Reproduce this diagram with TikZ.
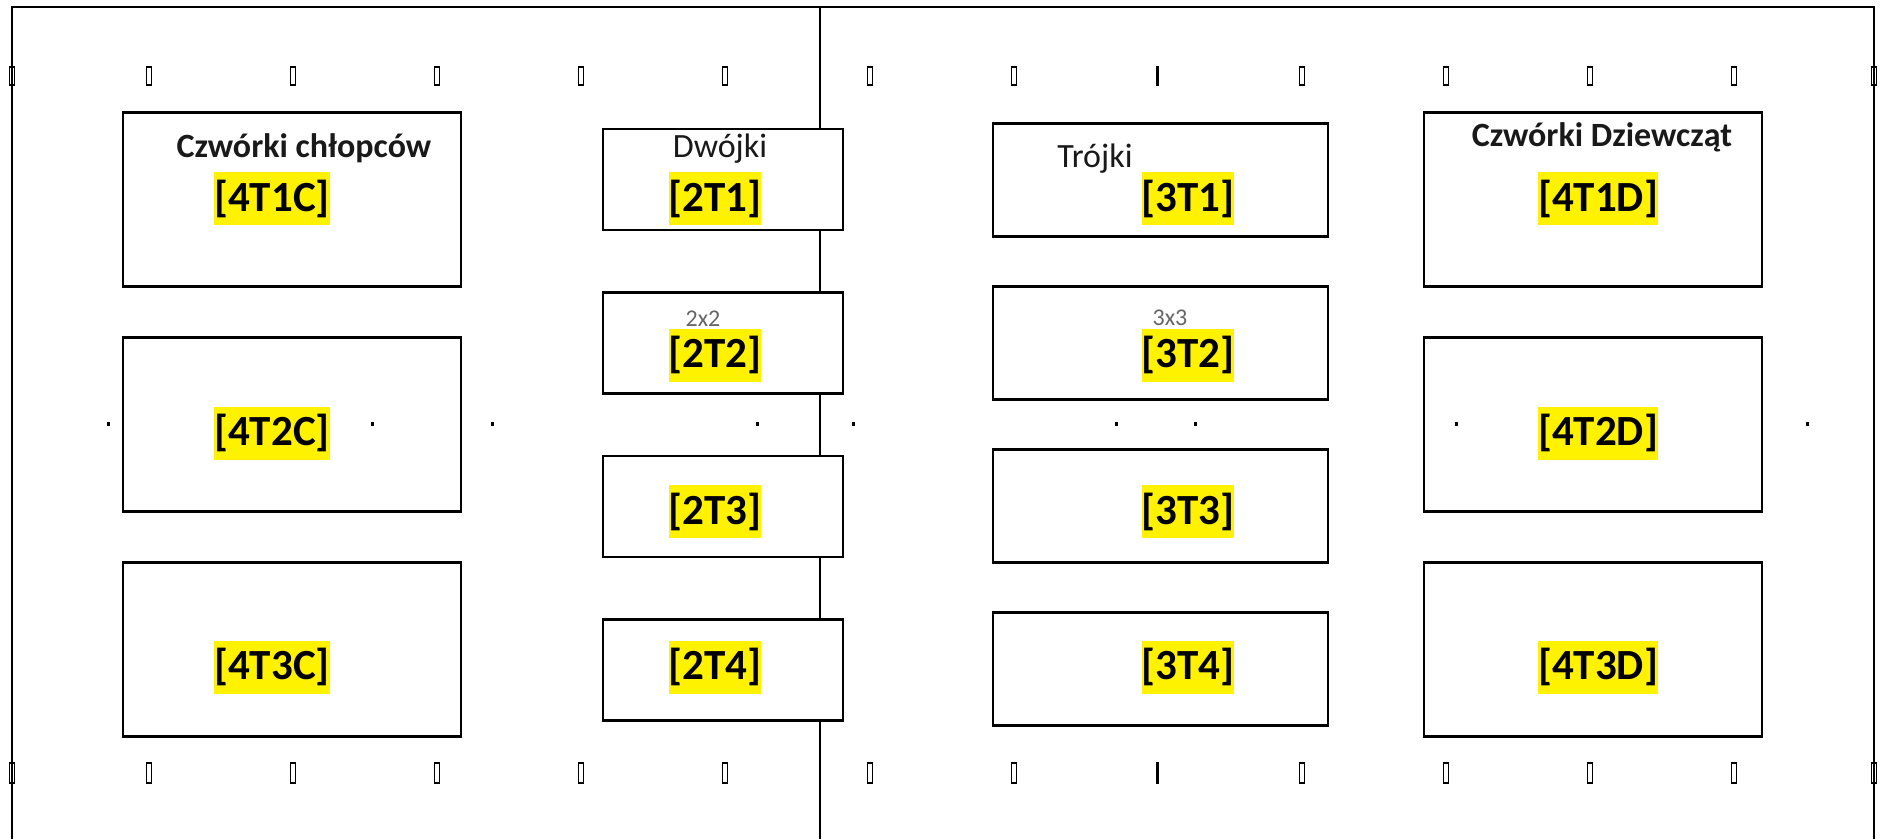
\documentclass[tikz,border=0pt]{standalone}
\usepackage{fontspec}
\setmainfont{Carlito}
\usetikzlibrary{positioning}

\begin{document}
\begin{tikzpicture}[x=1pt,y=-1pt,
  table node/.style={rectangle,draw,line width=2.8pt,fill=white,inner sep=0pt,outer sep=0pt},
  four node/.style={table node,minimum width=338pt,minimum height=174pt},
  two node/.style={table node,minimum width=240pt,minimum height=101pt},
  three node/.style={table node,minimum width=335pt,minimum height=113pt},
  tag node/.style={rectangle,fill=yellow,inner xsep=0pt,inner ysep=0pt,minimum height=53pt,
    font=\fontsize{43}{43}\selectfont\bfseries},
  title node/.style={anchor=base,inner sep=0pt,text=black!90,font=\fontsize{34}{34}\selectfont},
  bold title/.style={title node,font=\fontsize{34}{34}\selectfont\bfseries},
  size node/.style={anchor=base,inner sep=0pt,text=black!60,font=\fontsize{24}{24}\selectfont},
  peg/.style={draw,line width=1.4pt}]

  \useasboundingbox (0,0) rectangle (1883,839);

  % hall walls
  \draw[line width=2pt] (12,839) -- (12,7) -- (1874,7) -- (1874,839);
  \draw[line width=1.6pt] (820,7) -- (820,839);

  % boys
  \node[four node] (b1) at (292,199.5) {};
  \node[four node] (b2) [below=51pt of b1] {};
  \node[four node] (b3) [below=51pt of b2] {};
  % pairs
  \node[two node] (d1) at (723,179.5) {};
  \node[two node] (d2) [below=62.5pt of d1] {};
  \node[two node] (d3) [below=62.5pt of d2] {};
  \node[two node] (d4) [below=62.5pt of d3] {};
  % triples
  \node[three node] (t1) at (1160.5,180) {};
  \node[three node] (t2) [below=50pt of t1] {};
  \node[three node] (t3) [below=50pt of t2] {};
  \node[three node] (t4) [below=50pt of t3] {};
  % girls
  \node[four node] (g1) at (1593,199.5) {};
  \node[four node] (g2) [below=51pt of g1] {};
  \node[four node] (g3) [below=51pt of g2] {};

  \node[bold title] (hb) at (304,157) {Czwórki chłopców};
  \node[title node] (hd) at (720,157) {Dwójki};
  \node[title node] (ht) at (1095,167) {Trójki};
  \node[bold title] (hg) at (1602,146) {Czwórki Dziewcząt};

  \node[size node] (sd) at (703,326) {2x2};
  \node[size node] (st) at (1170,325) {3x3};

  \node[tag node] (lb1) at (272,198.5) {[4T1C]};
  \node[tag node] (lb2) at (272,433) {[4T2C]};
  \node[tag node] (lb3) at (272,667) {[4T3C]};
  \node[tag node] (ld1) at (715,198.5) {[2T1]};
  \node[tag node] (ld2) at (715,355) {[2T2]};
  \node[tag node] (ld3) at (715,511.5) {[2T3]};
  \node[tag node] (ld4) at (715,667) {[2T4]};
  \node[tag node] (lt1) at (1188,198.5) {[3T1]};
  \node[tag node] (lt2) at (1188,355) {[3T2]};
  \node[tag node] (lt3) at (1188,511.5) {[3T3]};
  \node[tag node] (lt4) at (1188,667) {[3T4]};
  \node[tag node] (lg1) at (1598,198.5) {[4T1D]};
  \node[tag node] (lg2) at (1598,433) {[4T2D]};
  \node[tag node] (lg3) at (1598,667) {[4T3D]};

  \foreach \px in {108,372,492,757,853,1116,1195,1456,1807}
    \fill (\px-1.5,422) rectangle (\px+1.5,426);

  \foreach \px in {12,149,293,437,581,725,870,1014,1302,1446,1590,1734,1874} {
    \draw[peg] (\px-2.5,67) rectangle (\px+2.5,85);
    \draw[peg] (\px-2.5,763) rectangle (\px+2.5,783);
  }
  \fill (1155.5,66) rectangle (1158.5,86);
  \fill (1155.5,762) rectangle (1158.5,784);
\end{tikzpicture}
\end{document}
